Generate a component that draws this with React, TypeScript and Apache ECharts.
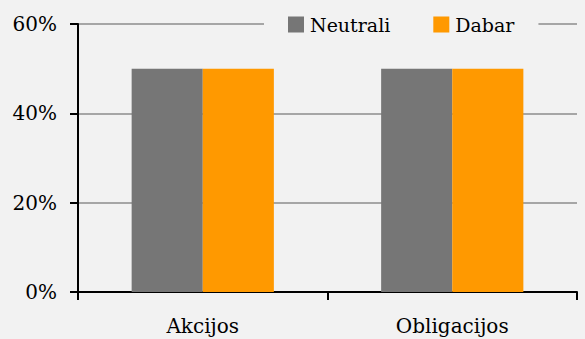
import React, { useEffect, useRef } from "react";
import * as echarts from "echarts";

const categories = ["Akcijos", "Obligacijos"];
const neutraliValues = [50, 50];
const dabarValues = [50, 50];
const seriesNames = ["Neutrali", "Dabar"];

export default function App() {
  const ref = useRef<HTMLDivElement>(null);
  useEffect(() => {
    if (!ref.current) return;
    const chart = echarts.init(ref.current, undefined, { renderer: "svg" });
    const font = "DejaVu Serif";
    chart.setOption({
      animation: false,
      backgroundColor: "#f2f2f2",
      textStyle: { fontFamily: font },
      grid: { left: 78, right: 8, top: 24, bottom: 47, containLabel: false },
      legend: {
        data: seriesNames,
        left: 264,
        top: 13,
        padding: [2, 24, 2, 24],
        itemWidth: 16,
        itemHeight: 16,
        itemGap: 43,
        icon: "rect",
        backgroundColor: "#f2f2f2",
        textStyle: { fontFamily: font, fontSize: 19, color: "#000", padding: [0, 0, 0, 1] },
      },
      xAxis: {
        type: "category",
        data: categories,
        axisLine: { lineStyle: { color: "#000", width: 2 } },
        axisTick: { show: true, length: 8, lineStyle: { color: "#000", width: 2 } },
        axisLabel: { fontFamily: font, fontSize: 20, color: "#000", margin: 24 },
      },
      yAxis: {
        type: "value",
        min: 0,
        max: 60,
        interval: 20,
        axisLine: { show: true, lineStyle: { color: "#000", width: 2 } },
        axisTick: { show: true, length: 8, lineStyle: { color: "#000", width: 2 } },
        axisLabel: { fontFamily: font, fontSize: 20, color: "#000", margin: 21, formatter: "{value}%" },
        splitLine: { lineStyle: { color: "#a6a6a6", width: 2 } },
      },
      series: [
        {
          name: seriesNames[0],
          type: "bar",
          data: neutraliValues,
          itemStyle: { color: "#767676" },
          barGap: "0%",
          barCategoryGap: "43%",
        },
        {
          name: seriesNames[1],
          type: "bar",
          data: dabarValues,
          itemStyle: { color: "#ff9900" },
          barGap: "0%",
          barCategoryGap: "43%",
        },
      ],
    });
    return () => chart.dispose();
  }, []);
  return (
    <div
      ref={ref}
      style={{ position: "fixed", left: 0, top: 0, width: 585, height: 339 }}
    />
  );
}
